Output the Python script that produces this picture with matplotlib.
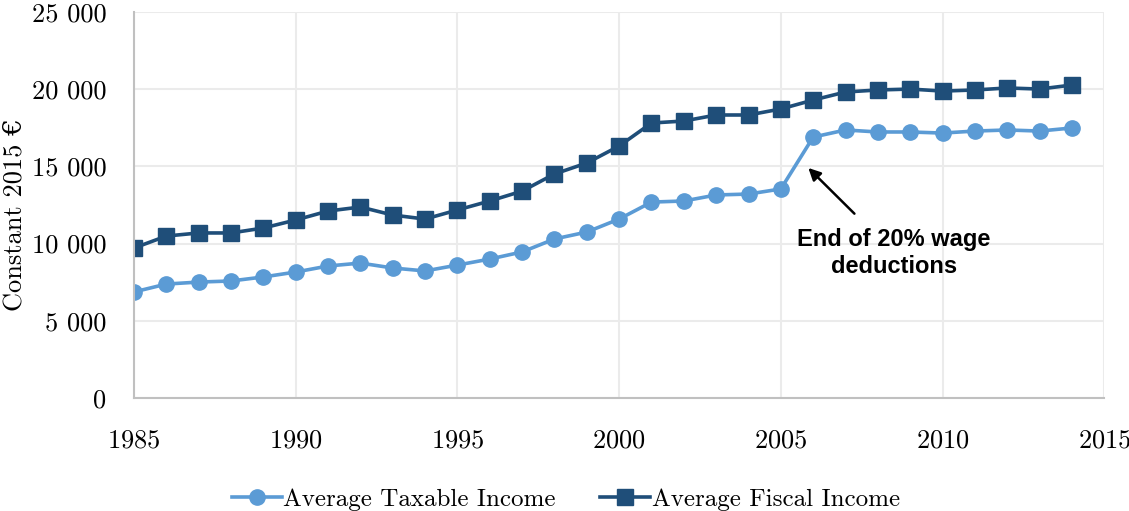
import matplotlib.pyplot as plt
from matplotlib.ticker import FuncFormatter

years = list(range(1985, 2015))
taxable = [6870, 7380, 7510, 7580, 7840, 8160, 8550, 8740, 8420, 8230,
           8610, 9000, 9460, 10300, 10750, 11590, 12690, 12760, 13150, 13210,
           13540, 16900, 17360, 17230, 17230, 17160, 17290, 17360, 17290, 17490]
fiscal = [9715, 10490, 10690, 10690, 11010, 11530, 12110, 12370, 11850, 11590,
          12180, 12760, 13400, 14510, 15220, 16320, 17810, 17940, 18330, 18330,
          18720, 19300, 19820, 19950, 20010, 19880, 19950, 20080, 20010, 20270]

light = '#5b9bd5'
dark = '#1f4e79'

plt.rcParams['font.family'] = ['cmr10', 'DejaVu Serif']
plt.rcParams['axes.formatter.use_mathtext'] = True

fig = plt.figure(figsize=(11.29, 5.11), dpi=100)
ax = fig.add_axes([0.1187, 0.2211, 0.8594, 0.7554])

ax.plot(years, taxable, color=light, lw=2.6, marker='o', ms=11, label='Average Taxable Income')
ax.plot(years, fiscal, color=dark, lw=2.6, marker='s', ms=11, label='Average Fiscal Income')

ax.set_xlim(1985, 2015)
ax.set_ylim(0, 25000)
ax.set_xticks(range(1985, 2016, 5))
ax.set_yticks(range(0, 25001, 5000))
ax.yaxis.set_major_formatter(FuncFormatter(lambda v, p: f'{int(v):,}'.replace(',', ' ')))
ax.tick_params(length=0, labelsize=19)
ax.tick_params(axis='x', pad=22)
ax.tick_params(axis='y', pad=20)
ax.grid(True, color='#ebebeb', lw=1.5)
ax.set_axisbelow(True)
for s in ['top', 'right']:
    ax.spines[s].set_visible(False)
for s in ['left', 'bottom']:
    ax.spines[s].set_color('#c0c0c0')
    ax.spines[s].set_linewidth(1.5)

# y label placed by hand, the wide tick pad would push it off the figure
fig.text(0.013, 0.58, 'Constant 2015 €', rotation=90, ha='center', va='center', fontsize=19)

ax.annotate('End of 20% wage\ndeductions', xy=(2005.85, 14900), xytext=(2008.5, 11000),
            ha='center', va='top', fontsize=17, fontweight='bold', family='Liberation Sans',
            linespacing=1.2,
            arrowprops=dict(arrowstyle='-|>', color='black', lw=1.8, shrinkA=12, shrinkB=0,
                            mutation_scale=18))

ax.legend(loc='upper center', bbox_to_anchor=(0.445, -0.175), ncol=2, frameon=False,
          fontsize=18, handlelength=2.0, handletextpad=0.05, columnspacing=1.8)

fig.savefig('out.png', dpi=100)
